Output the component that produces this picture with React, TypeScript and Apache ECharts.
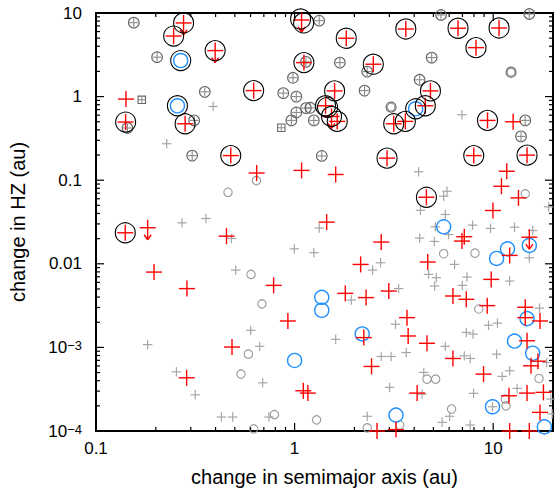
import React, { useEffect, useRef } from 'react';
import * as echarts from 'echarts';

// ---------- data (x: change in semimajor axis, y: change in HZ) ----------
const grayPlus = [
  [0.389, 0.762], [0.227, 0.273], [6.96, 0.607], [0.271, 0.0309], [0.358, 0.0348], [0.481, 0.0201],
  [0.997, 0.0151], [1.25, 0.0136], [1.33, 0.0268], [0.505, 0.00841], [4.21, 0.126], [5.63, 0.0643],
  [5.85, 0.0737], [4.3, 0.0437], [5.74, 0.0389], [19.0, 0.048], [5.11, 0.0277], [5.96, 0.0224],
  [7.87, 0.029], [9.69, 0.0265], [12.8, 0.0274], [15.8, 0.025], [4.26, 0.0203], [5.05, 0.0185],
  [15.2, 0.0118], [2.71, 0.0103], [2.47, 0.00841], [6.39, 0.00983], [4.73, 0.00747], [5.17, 0.00682],
  [5.07, 0.00542], [7.38, 0.00694], [6.99, 0.00552], [12.1, 0.00622], [1.93, 0.00369], [3.34, 0.00505],
  [17.1, 0.00295], [0.601, 0.0016], [0.182, 0.00108], [0.667, 0.00103], [0.254, 0.00051], [0.691, 0.000377],
  [0.316, 0.000271], [0.428, 0.000147], [0.488, 0.000147], [0.743, 0.000147], [3.22, 0.00189], [1.61, 0.00125],
  [9.47, 0.00184], [10.5, 0.00195], [7.32, 0.00151], [7.91, 0.00144], [2.73, 0.000779], [3.06, 0.000779],
  [3.65, 0.000869], [5.74, 0.00103], [7.15, 0.000792], [7.66, 0.000737], [10.4, 0.00083], [18.6, 0.00066],
  [11.1, 0.00045], [12.1, 0.000525], [4.47, 0.000502], [3.01, 0.000332], [4.38, 0.000276], [7.96, 0.000282],
  [13.2, 0.000323], [19.5, 0.000241], [9.92, 0.000195], [6.03, 0.00015], [5.53, 0.000127], [2.32, 0.00015],
  [7.66, 0.000118], [19.8, 0.00016],
];

const grayCircles = [
  [0.642, 0.0989], [0.462, 0.0717], [0.603, 0.00747], [0.685, 0.00332], [14.5, 0.0686], [5.63, 0.0132],
  [8.09, 0.0134], [8.46, 0.00288], [0.585, 0.00083], [0.537, 0.000479], [0.791, 0.000157], [0.622, 0.000106],
  [1.29, 0.000136], [4.64, 0.000417], [5.13, 0.000417], [17.0, 0.000425], [11.5, 0.000241], [11.6, 0.0002],
  [6.17, 0.000183], [2.32, 0.000109], [3.38, 0.000118],
];

const darkCircles = [[12.3, 1.96], [3.06, 0.749]];

const grayCrossCircles = [
  [0.155, 7.66], [0.203, 2.96], [0.353, 1.14], [0.144, 0.421], [0.312, 0.519], [0.305, 0.197],
  [1.33, 8.09], [1.14, 2.6], [0.981, 1.68], [0.877, 1.1], [1.02, 1.0], [1.14, 0.729],
  [1.02, 0.646], [0.963, 0.519], [1.25, 0.519], [1.2, 0.735], [1.37, 0.195], [5.46, 9.47],
  [15.2, 9.73], [1.69, 2.55], [2.32, 1.99], [4.9, 2.93], [4.26, 1.59], [2.25, 1.18],
  [14.5, 0.519], [13.8, 0.334],
];

const grayCrossSquares = [[0.17, 0.916], [0.857, 0.424]];

const redPlus = [
  [0.246, 5.3], [0.622, 1.18], [0.141, 0.496], [0.281, 0.473], [0.477, 0.197], [1.114, 2.55],
  [1.82, 4.99], [3.63, 6.44], [6.65, 6.57], [10.7, 6.62], [8.19, 3.85], [2.49, 2.44],
  [1.59, 1.17], [4.83, 1.17], [1.432, 0.777], [1.639, 0.505], [4.55, 0.777], [3.155, 0.473],
  [3.61, 0.505], [9.36, 0.519], [2.92, 0.1835], [7.98, 0.197], [14.8, 0.1994], [4.61, 0.0625],
  [0.1404, 0.0235],
  [0.1415, 0.934], [12.6, 0.5], [0.644, 0.122], [1.084, 0.131], [0.454, 0.0214], [0.196, 0.00796],
  [0.287, 0.00505], [0.784, 0.00552], [1.61, 0.117], [11.7, 0.128], [11.0, 0.0846], [13.4, 0.0615],
  [9.97, 0.0434], [1.45, 0.0315], [7.15, 0.0211], [6.96, 0.0187], [2.73, 0.0182], [12.1, 0.0126],
  [2.15, 0.00983], [4.68, 0.0105], [9.77, 0.00651], [1.8, 0.00443], [2.29, 0.00394], [2.98, 0.00472],
  [6.27, 0.00412], [7.32, 0.00376], [9.33, 0.00316], [14.5, 0.00302], [0.925, 0.00207], [0.484, 0.00101],
  [0.286, 0.000433], [1.106, 0.000303], [1.166, 0.000284], [3.68, 0.00227], [3.73, 0.00137], [2.23, 0.00131],
  [4.64, 0.00112], [14.5, 0.00227], [17.2, 0.00207], [14.8, 0.0012], [6.27, 0.000737], [2.44, 0.000592],
  [15.5, 0.000602], [16.8, 0.000684], [8.94, 0.000479], [4.14, 0.000284], [12.0, 0.000264], [14.8, 0.000284],
  [17.9, 0.00029], [17.2, 0.000167], [2.6, 0.0001], [3.24, 0.000104], [12.1, 0.0001], [15.2, 0.0001],
];

const redLimits = [
  [0.276, 7.6], [0.398, 3.55], [1.084, 8.25], [1.534, 0.579], [0.182, 0.027], [15.2, 0.0208],
];

const blackRings = [
  [0.246, 5.3], [0.276, 7.6], [0.398, 3.55], [0.622, 1.18], [0.141, 0.496], [0.281, 0.473],
  [0.477, 0.197], [1.072, 8.48], [1.11, 7.6], [1.114, 2.55], [1.82, 4.99], [3.63, 6.44],
  [6.65, 6.57], [10.7, 6.62], [8.19, 3.85], [2.49, 2.44], [1.59, 1.17], [4.83, 1.17],
  [1.432, 0.777], [1.465, 0.745], [1.534, 0.579], [1.639, 0.505], [4.55, 0.777], [3.155, 0.473],
  [3.61, 0.505], [9.36, 0.519], [2.92, 0.1835], [7.98, 0.197], [14.8, 0.1994], [4.61, 0.0625],
  [0.1404, 0.0235], [0.267, 2.7], [0.257, 0.777], [4.07, 0.715],
];

const blueRings = [
  [0.267, 2.7], [0.257, 0.777], [4.07, 0.715], [5.63, 0.0277], [11.8, 0.0151], [10.4, 0.0116],
  [15.2, 0.0166], [1.37, 0.00397], [1.37, 0.00278], [1.0, 0.000698], [2.19, 0.00145], [14.8, 0.00221],
  [12.8, 0.00119], [15.8, 0.000852], [9.92, 0.000195], [3.24, 0.000155], [18.1, 0.000112],
];

// ---------- ticks ----------
const xMajorTicks = [0.1, 1, 10];
const xMinorTicks = [0.2, 0.3, 0.4, 0.5, 0.6, 0.7, 0.8, 0.9, 2, 3, 4, 5, 6, 7, 8, 9];
const yMajorTicks = [0.0001, 0.001, 0.01, 0.1, 1, 10];
const yMinorTicks = [
  0.0002, 0.0003, 0.0004, 0.0005, 0.0006, 0.0007, 0.0008, 0.0009,
  0.002, 0.003, 0.004, 0.005, 0.006, 0.007, 0.008, 0.009,
  0.02, 0.03, 0.04, 0.05, 0.06, 0.07, 0.08, 0.09,
  0.2, 0.3, 0.4, 0.5, 0.6, 0.7, 0.8, 0.9,
  2, 3, 4, 5, 6, 7, 8, 9,
];

const FONT = "'Liberation Sans', Arial, Helvetica, sans-serif";
const RED = '#ff0000';
const BLUE = '#1e8fff';

type Pt = number[];

function line(x1: number, y1: number, x2: number, y2: number, stroke: string, lineWidth: number) {
  return { type: 'line', shape: { x1, y1, x2, y2 }, style: { stroke, lineWidth } };
}
function ring(cx: number, cy: number, r: number, stroke: string, lineWidth: number) {
  return { type: 'circle', shape: { cx, cy, r }, style: { fill: 'none', stroke, lineWidth } };
}
function plus(cx: number, cy: number, a: number, stroke: string, lw: number) {
  return [line(cx - a, cy, cx + a, cy, stroke, lw), line(cx, cy - a, cx, cy + a, stroke, lw)];
}

function markerSeries(name: string, data: Pt[], draw: (x: number, y: number) => any[]) {
  return {
    type: 'custom',
    name,
    data,
    clip: false,
    silent: true,
    renderItem: (params: any, api: any) => {
      const p = api.coord([api.value(0), api.value(1)]);
      return { type: 'group', children: draw(p[0], p[1]) };
    },
  };
}

function xTickSeries(data: number[], len: number) {
  return {
    type: 'custom',
    data: data.map((v) => [v, 1]),
    clip: false,
    silent: true,
    renderItem: (params: any, api: any) => {
      const cs = params.coordSys;
      const x = api.coord([api.value(0), 1])[0];
      const b = cs.y + cs.height;
      return {
        type: 'group',
        children: [line(x, b, x, b - len, '#000', 1.2), line(x, cs.y, x, cs.y + len, '#000', 1.2)],
      };
    },
  };
}
function yTickSeries(data: number[], len: number) {
  return {
    type: 'custom',
    data: data.map((v) => [1, v]),
    clip: false,
    silent: true,
    renderItem: (params: any, api: any) => {
      const cs = params.coordSys;
      const y = api.coord([1, api.value(1)])[1];
      const r = cs.x + cs.width;
      return {
        type: 'group',
        children: [line(cs.x, y, cs.x + len, y, '#000', 1.2), line(r, y, r - len, y, '#000', 1.2)],
      };
    },
  };
}

function yLabel(v: number) {
  const e = Math.round(Math.log10(v));
  if (e >= 0) return String(Math.round(Math.pow(10, e)));
  if (e >= -2) return '{n|' + (e === -1 ? '0.1' : '0.01') + '}';
  return '{b|10}{s|\u2212' + -e + '}';
}
function xLabel(v: number) {
  const e = Math.round(Math.log10(v));
  if (e >= 0) return String(Math.round(Math.pow(10, e)));
  return '0.1';
}

export default function App() {
  const ref = useRef<HTMLDivElement>(null);
  useEffect(() => {
    document.body.style.margin = '0';
    const chart = echarts.init(ref.current!, null, { renderer: 'svg' });
    const option: any = {
      animation: false,
      backgroundColor: '#ffffff',
      textStyle: { fontFamily: FONT },
      grid: {
        left: 95,
        right: 2,
        top: 13,
        bottom: 60,
        show: true,
        borderColor: '#000',
        borderWidth: 2,
        backgroundColor: 'transparent',
      },
      xAxis: {
        type: 'log',
        logBase: 10,
        min: 0.1,
        max: 20,
        name: 'change in semimajor axis (au)',
        nameLocation: 'middle',
        nameGap: 36,
        nameTextStyle: { fontSize: 20, color: '#000', fontFamily: FONT },
        axisLine: { show: false },
        axisTick: { show: false },
        splitLine: { show: false },
        minorTick: { show: false },
        axisLabel: {
          fontSize: 17,
          color: '#000',
          fontFamily: FONT,
          margin: 9,
          showMaxLabel: false,
          formatter: xLabel,
        },
      },
      yAxis: {
        type: 'log',
        logBase: 10,
        min: 0.0001,
        max: 10,
        name: 'change in HZ (au)',
        nameLocation: 'middle',
        nameRotate: 90,
        nameGap: 68,
        nameTextStyle: { fontSize: 20, color: '#000', fontFamily: FONT },
        axisLine: { show: false },
        axisTick: { show: false },
        splitLine: { show: false },
        axisLabel: {
          fontSize: 17,
          color: '#000',
          fontFamily: FONT,
          margin: 14,
          formatter: yLabel,
          rich: {
            n: { fontSize: 17, fontFamily: FONT, color: '#000' },
            b: { fontSize: 17, fontFamily: FONT, color: '#000', lineHeight: 17, padding: [6, 0, 0, 0], verticalAlign: 'bottom' },
            s: { fontSize: 13, fontFamily: FONT, color: '#000', lineHeight: 13, verticalAlign: 'top' },
          },
        },
      },
      series: [
        xTickSeries(xMajorTicks, 8),
        xTickSeries(xMinorTicks, 4),
        yTickSeries(yMajorTicks, 8),
        yTickSeries(yMinorTicks, 4),
        markerSeries('grayPlus', grayPlus, (x, y) => plus(x, y, 4.7, '#a6a6a6', 1.2)),
        markerSeries('grayCircles', grayCircles, (x, y) => [ring(x, y, 4.2, '#999999', 1.1)]),
        markerSeries('darkCircles', darkCircles, (x, y) => [ring(x, y, 5, '#6e6e6e', 1.3), ring(x, y, 3.8, '#9a9a9a', 1)]),
        markerSeries('grayCrossCircles', grayCrossCircles, (x, y) => [
          ring(x, y, 5.3, '#666666', 1.1),
          ...plus(x, y, 4.5, '#8a8a8a', 1.1),
        ]),
        markerSeries('grayCrossSquares', grayCrossSquares, (x, y) => [
          { type: 'rect', shape: { x: x - 3.7, y: y - 3.7, width: 7.4, height: 7.4 }, style: { fill: 'none', stroke: '#666666', lineWidth: 1.1 } },
          ...plus(x, y, 3.7, '#8a8a8a', 1),
        ]),
        markerSeries('blueRings', blueRings, (x, y) => [ring(x, y, 7, BLUE, 1.4)]),
        markerSeries('redPlus', redPlus, (x, y) => plus(x, y, 8, RED, 1.4)),
        markerSeries('redLimits', redLimits, (x, y) => [
          line(x - 8, y, x + 8, y, RED, 1.4),
          line(x, y - 8, x, y + 12, RED, 1.4),
          line(x - 3.5, y + 7, x, y + 12, RED, 1.4),
          line(x + 3.5, y + 7, x, y + 12, RED, 1.4),
        ]),
        markerSeries('blackRings', blackRings, (x, y) => [ring(x, y, 10, '#000000', 1.1)]),
      ],
    };
    chart.setOption(option);
    return () => chart.dispose();
  }, []);
  return <div ref={ref} style={{ width: 555, height: 492 }} />;
}
